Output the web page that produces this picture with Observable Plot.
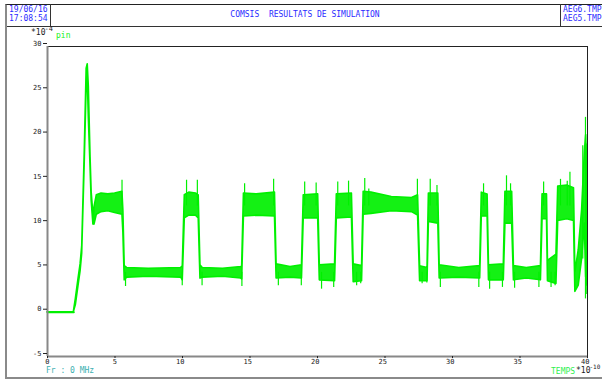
<!DOCTYPE html>
<html>
<head>
<meta charset="utf-8">
<script src="https://cdn.jsdelivr.net/npm/d3@7"></script>
<script src="https://cdn.jsdelivr.net/npm/@observablehq/plot@0.6"></script>
<style>
  body { margin: 0; background: #fff; }
  #sheet { position: relative; width: 602px; height: 380px; overflow: hidden;
           font-family: "DejaVu Sans Mono", monospace; font-size: 8px; }
  #sheet svg { position: absolute; left: 0; top: 0; }
  .abs { position: absolute; white-space: pre; line-height: 1; }
  .blue { color: #2b2bff; }
</style>
</head>
<body>
<div id="sheet"></div>
<script>
// Time axis in units of 1e-10 s, signal "pin" in units of 1e-4
const tempsTicks = [0, 5, 10, 15, 20, 25, 30, 35, 40];
const pinTicks = [-5, 0, 5, 10, 15, 20, 25, 30];

// Envelope of the noisy pin trace: time, lower and upper bound
const temps = [
  0, 1.95, 2.1, 2.3, 2.45, 2.57, 2.76, 2.9, 2.98, 3.06, 3.19, 3.27, 3.4, 3.5, 3.65, 4.0, 4.5, 5.0, 5.55,
  5.62, 5.72, 5.9, 7.5, 9.9, 10.02,
  10.17, 10.5, 11.0, 11.2,
  11.33, 11.5, 13.0, 14.35, 14.42,
  14.55, 15.5, 16.85,
  16.97, 18.0, 18.85,
  18.98, 20.05,
  20.17, 21.3,
  21.43, 22.55,
  22.68, 23.3,
  23.42, 24.0, 25.5, 27.0, 27.45,
  27.6, 28.15,
  28.25, 28.95,
  29.05, 30.5, 32.05,
  32.17, 32.6,
  32.7, 33.8,
  33.92, 34.42,
  34.55, 35.5, 36.55,
  36.67, 37.0,
  37.07, 37.7,
  37.83, 38.5, 39.0,
  39.1, 39.35, 39.6, 39.8, 39.9, 40.0
];
const pinBas = [
  0, 0, 0.8, 3.0, 4.6, 6.6, 17.0, 25.5, 26.5, 22.0, 16.3, 12.6, 9.9, 10.0, 11.0, 11.3, 11.4, 11.2, 11.0,
  9.0, 3.6, 3.9, 4.0, 3.9, 3.6,
  10.6, 10.9, 10.9, 10.6,
  3.8, 3.9, 4.0, 3.8, 3.7,
  10.8, 10.9, 10.8,
  3.8, 3.9, 3.8,
  10.6, 10.6,
  3.6, 3.5,
  10.6, 10.7,
  3.4, 3.5,
  11.0, 11.1, 11.4, 11.3, 10.9,
  3.5, 3.5,
  10.2, 10.0,
  3.8, 3.9, 3.8,
  10.8, 10.8,
  3.6, 3.6,
  10.0, 10.0,
  3.6, 3.8, 3.6,
  10.5, 10.5,
  3.5, 3.2,
  10.3, 10.5, 10.3,
  2.3, 3.0, 6.0, 10.0, 4.0, 3.0
];
const pinHaut = [
  0, 0, 1.5, 3.8, 5.4, 7.4, 18.2, 27.5, 28.0, 25.5, 17.5, 13.6, 11.0, 12.0, 13.2, 13.4, 13.3, 13.4, 13.6,
  11.5, 5.2, 5.0, 4.9, 5.0, 5.2,
  13.2, 13.5, 13.4, 13.2,
  5.3, 5.0, 4.9, 5.1, 5.2,
  13.4, 13.3, 13.5,
  5.4, 5.1, 5.3,
  13.2, 13.3,
  5.3, 5.4,
  13.3, 13.4,
  5.4, 5.2,
  13.6, 13.5, 13.0, 12.9, 13.2,
  5.2, 5.0,
  13.4, 13.4,
  5.3, 5.0, 5.2,
  13.5, 13.3,
  5.3, 5.4,
  13.6, 13.6,
  5.2, 5.0, 5.2,
  13.3, 13.3,
  5.8, 6.5,
  14.2, 14.3, 14.0,
  4.5, 7.0, 11.5, 18.0, 20.0, 15.0
];

// Isolated excursions of the trace beyond its envelope
const pointeT = [
  3.44, 5.52, 5.78, 9.98, 10.3, 11.1, 11.45, 14.4, 14.6, 16.75, 17.1, 18.8,
  19.05, 19.9, 20.3, 21.2, 21.5, 22.3, 22.9, 23.2, 23.5, 23.8, 27.4,
  27.75, 28.1, 28.35, 28.85, 29.1, 31.95, 32.3, 32.75, 33.7, 34.0, 34.3,
  34.6, 36.4, 36.75, 37.3, 37.6, 38.0, 38.5, 38.7, 39.65, 39.85, 39.95
];
const pointeBas = [
  9.8, 12.0, 2.9, 3.0, 12.0, 12.0, 3.0, 2.9, 12.0, 12.0, 3.0, 3.0,
  12.0, 12.0, 2.6, 2.8, 12.0, 12.0, 3.0, 3.2, 12.0, 12.0, 12.0,
  3.2, 3.3, 12.0, 12.0, 2.8, 2.8, 12.0, 2.6, 2.8, 12.0, 12.0,
  2.7, 2.8, 12.0, 2.8, 3.0, 12.0, 12.0, 12.0, 6.0, 1.5, 2.0
];
const pointeHaut = [
  11.5, 14.9, 4.5, 4.5, 14.9, 14.9, 4.5, 4.5, 14.5, 15.0, 4.5, 4.5,
  14.7, 14.6, 4.5, 4.5, 14.7, 14.8, 4.5, 4.5, 15.1, 13.9, 15.0,
  4.5, 4.5, 15.0, 14.3, 4.5, 4.5, 14.5, 4.5, 4.5, 15.4, 14.5,
  4.5, 4.5, 14.7, 4.5, 4.5, 15.0, 14.8, 15.8, 18.8, 22.0, 19.0
];

const signal = temps.map((t, i) => ({t, lo: pinBas[i], hi: pinHaut[i]}));
const pointes = pointeT.map((t, i) => ({t, lo: pointeBas[i], hi: pointeHaut[i]}));
// the quiet stretch before the pulse, where the trace is a single line
const repos = signal.filter(d => d.lo === d.hi);

const vert = "#00f000";
const fmt = d => String(d);

const chart = Plot.plot({
  width: 602,
  height: 380,
  marginLeft: 47,
  marginRight: 15,
  marginTop: 46,
  marginBottom: 24,
  style: {background: "transparent", fontFamily: "'DejaVu Sans Mono', monospace", fontSize: "7px", color: "#222"},
  x: {domain: [0, 40]},
  y: {domain: [-5, 30]},
  marks: [
    Plot.areaY(signal, {x: "t", y1: "lo", y2: "hi", fill: vert, fillOpacity: 0.92, stroke: vert, strokeWidth: 1.6}),
    Plot.lineY(repos, {x: "t", y: "lo", stroke: vert, strokeWidth: 2}),
    Plot.ruleX(pointes, {x: "t", y1: "lo", y2: "hi", stroke: vert, strokeWidth: 1.2}),
    Plot.ruleY([30], {stroke: "#222", strokeWidth: 1}),
    Plot.ruleX([40], {stroke: "#222", strokeWidth: 1}),
    Plot.ruleX([0], {stroke: "#888", strokeWidth: 2}),
    Plot.ruleY([-5], {stroke: "#888", strokeWidth: 2}),
    Plot.axisY(pinTicks, {tickSize: 4, tickPadding: 2, dy: -3, tickFormat: fmt, label: null, color: "#222"}),
    // time axis: short ticks, labels set just right of each tick
    Plot.axisX(tempsTicks, {tickSize: 2, tickFormat: () => "", label: null, color: "#222"}),
    Plot.text(tempsTicks, {x: d => d, text: fmt, frameAnchor: "bottom", textAnchor: "end", dx: 2, dy: 7, fill: "#222"})
  ]
});

const sheet = document.getElementById("sheet");
sheet.appendChild(chart);

// Page furniture: frame, header cells and annotations
const parts = [
  {style: "left:5px;top:4px;width:640px;height:375px;box-sizing:border-box;border-top:1px solid #222;border-left:2px solid #8a8a8a;border-bottom:2px solid #8a8a8a;"},
  {style: "left:7px;top:26px;width:600px;height:0;border-top:1px solid #333;"},
  {style: "left:50px;top:4px;width:0;height:22px;border-left:1px solid #333;"},
  {style: "left:560px;top:4px;width:0;height:22px;border-left:1px solid #333;"},
  {text: "19/06/16", cls: "blue", style: "left:9px;top:6px;"},
  {text: "17:08:54", cls: "blue", style: "left:9px;top:15px;"},
  {text: "COMSIS  RESULTATS DE SIMULATION", cls: "blue", style: "left:50px;width:510px;text-align:center;top:11px;"},
  {text: "AEG6.TMP", cls: "blue", style: "left:563px;top:6px;"},
  {text: "AEG5.TMP", cls: "blue", style: "left:563px;top:15px;"},
  {html: "*10<span style='position:relative;top:-4px;left:-1px;font-size:7px'>-4</span>", style: "left:31px;top:29px;color:#222;"},
  {text: "pin", style: "left:56px;top:32px;color:#22f022;"},
  {text: "Fr : 0 MHz", style: "left:46px;top:367px;color:#3cb0b0;"},
  {text: "TEMPS", style: "left:551px;top:368px;color:#30f050;"},
  {html: "*10<span style='position:relative;top:-4px;left:-1px;font-size:6px'>-10</span>", style: "left:576px;top:367px;color:#222;"}
];
for (const p of parts) {
  const el = document.createElement("div");
  el.className = "abs" + (p.cls ? " " + p.cls : "");
  el.setAttribute("style", p.style);
  if (p.text) el.textContent = p.text;
  if (p.html) el.innerHTML = p.html;
  sheet.appendChild(el);
}
</script>
</body>
</html>
